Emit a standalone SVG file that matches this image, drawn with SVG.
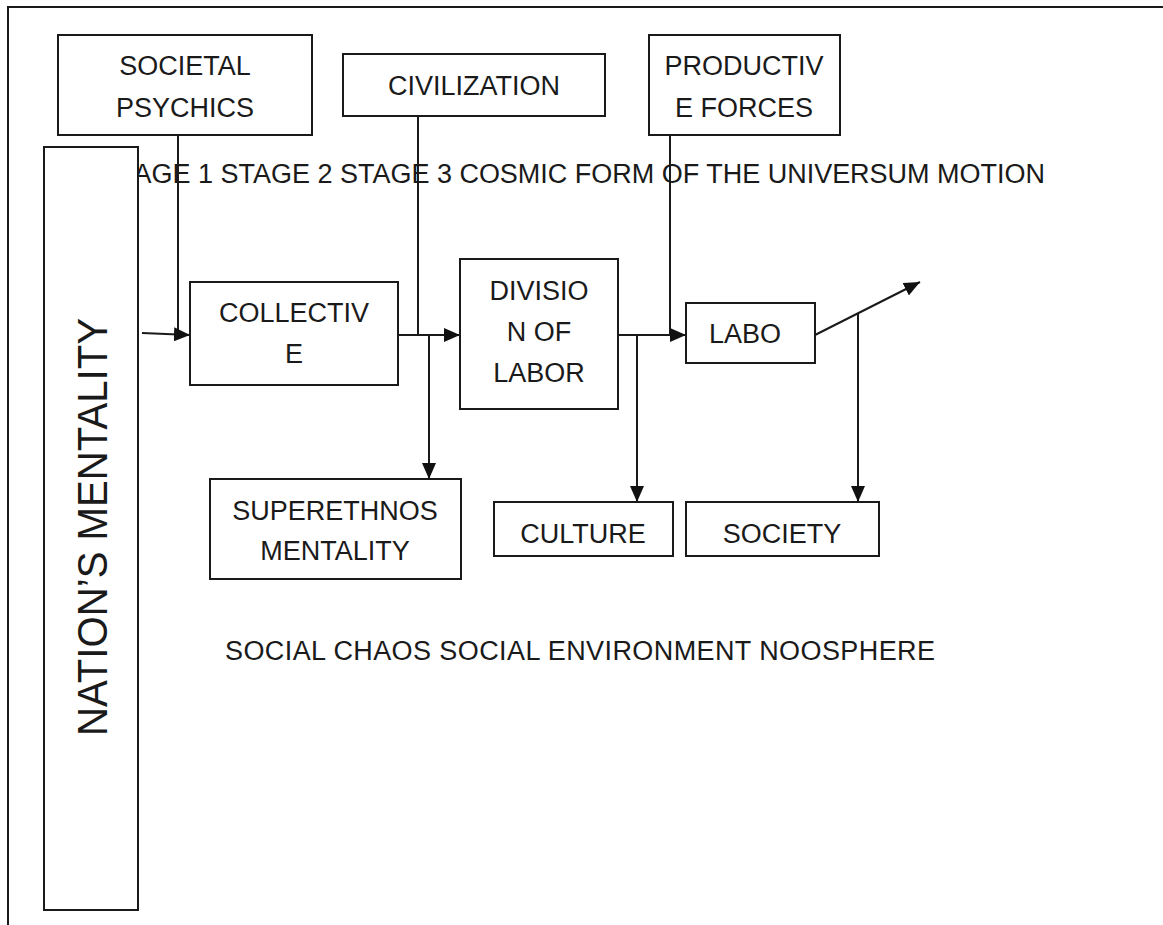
<svg xmlns="http://www.w3.org/2000/svg" width="1163" height="925" viewBox="0 0 1163 925">
<style>
.box{fill:#fff;stroke:#1a1a1a;stroke-width:2}
.t{font-family:"Liberation Sans",Arial,sans-serif;font-size:27px;fill:#1a1a1a}
.c{text-anchor:middle}
.ln{fill:none;stroke:#1a1a1a;stroke-width:2}
.ar{fill:none;stroke:#1a1a1a;stroke-width:2;marker-end:url(#ah)}
</style>
<defs>
<marker id="ah" viewBox="0 0 16 14" refX="16" refY="7" markerWidth="16" markerHeight="14" markerUnits="userSpaceOnUse" orient="auto">
<path d="M0,0 L16,7 L0,14 Z" fill="#111"/>
</marker>
</defs>
<rect width="1163" height="925" fill="#fff"/>
<path d="M8,925 V7 H1163" fill="none" stroke="#1a1a1a" stroke-width="2"/>

<text class="t" x="101" y="183" textLength="944" lengthAdjust="spacing">STAGE 1 STAGE 2 STAGE 3 COSMIC FORM OF THE UNIVERSUM MOTION</text>
<text class="t" x="225" y="660" textLength="710" lengthAdjust="spacing">SOCIAL CHAOS SOCIAL ENVIRONMENT NOOSPHERE</text>

<g id="nations-mentality">
<rect class="box" x="44" y="147" width="94" height="763"/>
<text class="t c" style="font-size:43px" transform="translate(107,527) rotate(-90)" textLength="418" lengthAdjust="spacingAndGlyphs">NATION’S MENTALITY</text>
</g>

<g id="connectors">
<polyline class="ln" points="178,135 178,335"/>
<line class="ar" x1="142" y1="333" x2="190" y2="335"/>
<polyline class="ln" points="418,116 418,335"/>
<line class="ar" x1="398" y1="335" x2="460" y2="335"/>
<line class="ar" x1="429" y1="335" x2="429" y2="479"/>
<polyline class="ln" points="670,135 670,335"/>
<line class="ar" x1="618" y1="335" x2="686" y2="335"/>
<line class="ar" x1="637" y1="335" x2="637" y2="502"/>
<line class="ar" x1="815" y1="335" x2="920" y2="282"/>
<line class="ar" x1="858" y1="313" x2="858" y2="502"/>
</g>

<g id="societal-psychics">
<rect class="box" x="58" y="35" width="254" height="100"/>
<text class="t c" x="185" y="75">SOCIETAL</text>
<text class="t c" x="185" y="117">PSYCHICS</text>
</g>
<g id="civilization">
<rect class="box" x="343" y="54" width="262" height="62"/>
<text class="t c" x="474" y="95">CIVILIZATION</text>
</g>
<g id="productive-forces">
<rect class="box" x="649" y="35" width="191" height="100"/>
<text class="t c" x="744" y="75">PRODUCTIV</text>
<text class="t c" x="744" y="117">E FORCES</text>
</g>
<g id="collective">
<rect class="box" x="190" y="282" width="208" height="103"/>
<text class="t c" x="294" y="322">COLLECTIV</text>
<text class="t c" x="294" y="363">E</text>
</g>
<g id="division-of-labor">
<rect class="box" x="460" y="259" width="158" height="150"/>
<text class="t c" x="539" y="300">DIVISIO</text>
<text class="t c" x="539" y="341">N OF</text>
<text class="t c" x="539" y="382">LABOR</text>
</g>
<g id="labo">
<rect class="box" x="686" y="303" width="129" height="60"/>
<text class="t c" x="745" y="343">LABO</text>
</g>
<g id="superethnos-mentality">
<rect class="box" x="210" y="479" width="251" height="100"/>
<text class="t c" x="335" y="520">SUPERETHNOS</text>
<text class="t c" x="335" y="560">MENTALITY</text>
</g>
<g id="culture">
<rect class="box" x="494" y="502" width="179" height="54"/>
<text class="t c" x="583" y="543">CULTURE</text>
</g>
<g id="society">
<rect class="box" x="686" y="502" width="193" height="54"/>
<text class="t c" x="782" y="543">SOCIETY</text>
</g>
</svg>
